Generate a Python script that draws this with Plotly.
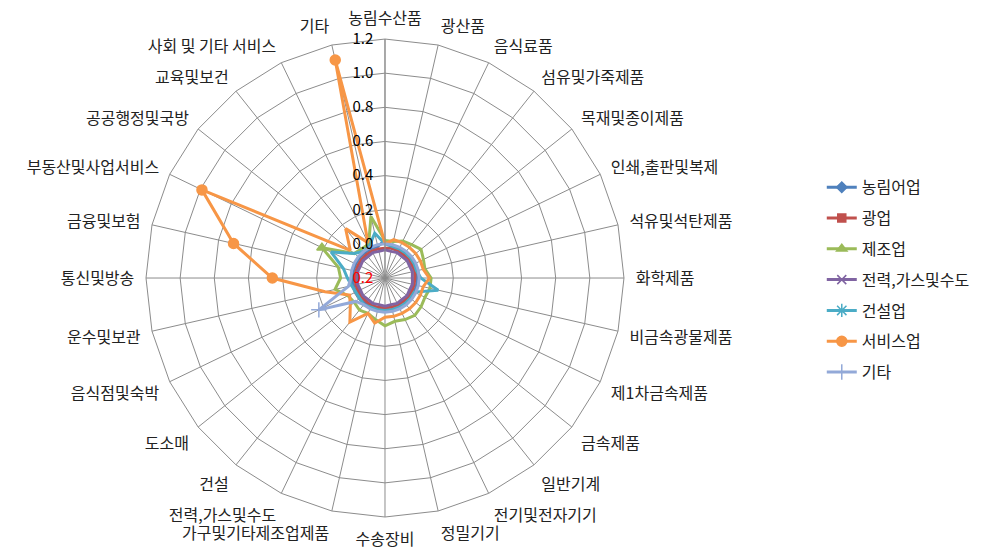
import plotly.graph_objects as go

# categories (clockwise from top)
categories = ["농림수산품", "광산품", "음식료품", "섬유및가죽제품", "목재및종이제품",
              "인쇄,출판및복제", "석유및석탄제품", "화학제품", "비금속광물제품", "제1차금속제품",
              "금속제품", "일반기계", "전기및전자기기", "정밀기기", "수송장비",
              "가구및기타제조업제품", "전력,가스및수도", "건설", "도소매", "음식점및숙박",
              "운수및보관", "통신및방송", "금융및보험", "부동산및사업서비스", "공공행정및국방",
              "교육및보건", "사회 및 기타 서비스", "기타"]

agri = [0.02, -0.01, -0.01, -0.01, -0.01, -0.01, -0.01, -0.01, -0.01, -0.01,
        -0.01, -0.01, -0.01, -0.01, -0.01, -0.01, -0.01, -0.01, -0.01, -0.01,
        -0.01, -0.01, -0.01, -0.01, -0.01, -0.01, -0.01, -0.01]
mining = [-0.025, -0.02, -0.025, -0.025, -0.025, -0.025, -0.02, -0.025, -0.025, -0.025,
          -0.025, -0.025, -0.025, -0.025, -0.025, -0.025, -0.02, -0.025, -0.025, -0.025,
          -0.025, -0.025, -0.025, -0.025, -0.025, -0.025, -0.025, -0.025]
manuf = [0.02, 0.02, 0.04, 0.05, 0.07, 0.05, 0.04, 0.07, 0.07, 0.06,
         0.07, 0.08, 0.07, 0.06, 0.08, 0.05, 0.03, 0.04, 0.03, 0.04,
         0.10, 0.06, 0.08, 0.21, 0.03, 0.02, 0.02, 0.17]
utility = [-0.035, -0.04, -0.035, -0.04, -0.035, -0.04, -0.035, -0.04, -0.035, -0.04,
           -0.035, -0.04, -0.035, -0.04, -0.035, -0.04, -0.035, -0.04, -0.035, -0.04,
           -0.035, -0.04, -0.035, -0.04, -0.035, -0.04, -0.035, -0.04]
constr = [0.0, -0.01, -0.01, -0.01, -0.01, -0.01, -0.01, 0.01, 0.12, -0.01,
          -0.01, -0.01, -0.01, -0.01, -0.01, -0.01, -0.01, 0.0, -0.01, -0.01,
          0.0, 0.02, 0.05, 0.15, 0.03, 0.0, 0.01, 0.07]
service = [0.0, 0.03, 0.03, 0.03, 0.03, 0.03, 0.03, 0.06, 0.03, 0.03,
           0.03, 0.03, 0.03, 0.03, 0.03, 0.07, 0.03, 0.13, 0.06, 0.03,
           0.16, 0.46, 0.71, 0.99, 0.06, 0.17, 0.03, 1.11]
etc = [0.0, 0.0, 0.0, 0.0, 0.0, 0.0, 0.0, 0.0, 0.0, 0.0,
       0.0, 0.0, 0.0, 0.0, 0.0, 0.0, 0.0, 0.0, 0.02, 0.23,
       0.02, 0.0, 0.0, 0.0, 0.0, 0.0, 0.0, 0.0]

series_names = ["농림어업", "광업", "제조업", "전력,가스및수도", "건설업", "서비스업", "기타"]
series_vals = [agri, mining, manuf, utility, constr, service, etc]

tick_vals = [-0.2, 0.0, 0.2, 0.4, 0.6, 0.8, 1.0, 1.2]
tick_text = ['<span style="color:#ff0000">0.2</span>', "0.0", "0.2", "0.4", "0.6", "0.8", "1.0", "1.2"]

colors = ["#4F81BD", "#C0504D", "#9BBB59", "#8064A2", "#4BACC6", "#F79646", "#93A9D8"]
symbols = ["diamond", "square", "triangle-up", "x-thin-open", "asterisk-open", "circle", "cross-thin-open"]
msizes = [8, 8, 9, 9, 11, 10, 11]

FONT = "Noto Sans CJK KR"
GRID = "#8c8c8c"

fig = go.Figure()
for name, vals, c, s, ms in zip(series_names, series_vals, colors, symbols, msizes):
    # close the loop like Excel does
    fig.add_trace(go.Scatterpolar(
        r=vals + vals[:1], theta=categories + categories[:1],
        name=name, legendgroup=name, mode="lines+markers",
        line=dict(color=c, width=3),
        marker=dict(symbol=s, size=ms, color=c, line=dict(color=c, width=1.5)),
    ))

# page body has an 8px margin, domain is shifted to compensate
fig.update_layout(
    width=990, height=554,
    margin=dict(l=0, r=0, t=0, b=0),
    paper_bgcolor="white",
    font=dict(family=FONT, size=14, color="#222222"),
    polar=dict(
        domain=dict(x=[0.1394, 0.6222], y=[0.0812, 0.9440]),
        bgcolor="white",
        gridshape="linear",
        radialaxis=dict(
            range=[-0.2, 1.2], tickvals=tick_vals, ticktext=tick_text,
            angle=90, tickangle=90, side="counterclockwise",
            showline=True, linecolor=GRID, linewidth=1,
            gridcolor=GRID, gridwidth=1,
            ticks="outside", ticklen=6, tickcolor="rgba(0,0,0,0)",
            tickfont=dict(size=15, color="black"),
        ),
        angularaxis=dict(
            direction="clockwise", rotation=90,
            linecolor=GRID, linewidth=1, gridcolor=GRID, gridwidth=1,
            ticks="outside", ticklen=8, tickcolor="rgba(0,0,0,0)",
            tickfont=dict(size=16, color="#222222"),
        ),
    ),
    legend=dict(x=0.822, y=0.707, xanchor="left", yanchor="top",
                font=dict(size=16), tracegroupgap=7, itemwidth=30,
                bgcolor="rgba(0,0,0,0)"),
)

fig.write_html("out.html")
